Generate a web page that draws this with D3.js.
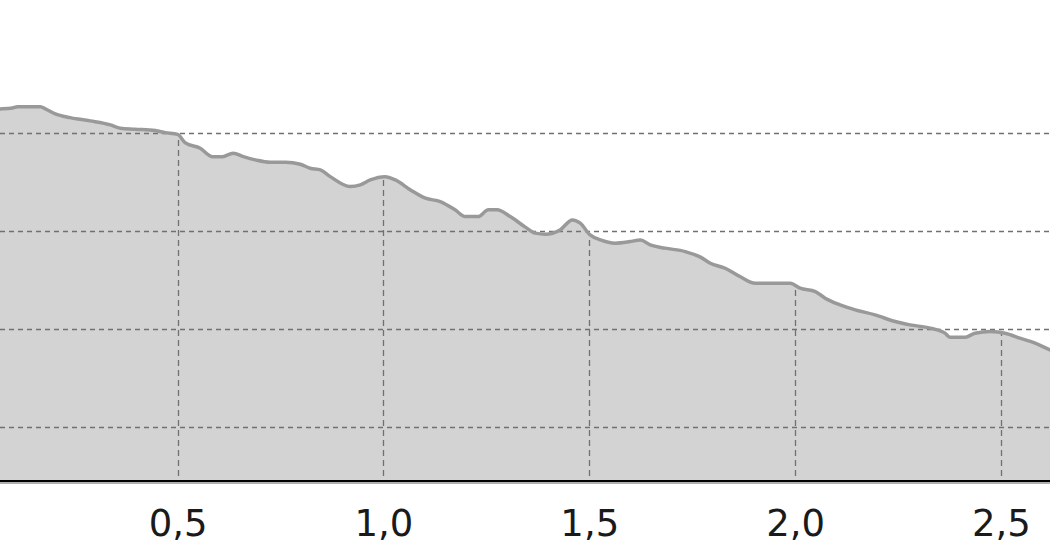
<!DOCTYPE html>
<html>
<head>
<meta charset="utf-8">
<script src="https://cdn.jsdelivr.net/npm/d3@7/dist/d3.min.js"></script>
<style>
  html, body { margin: 0; padding: 0; background: #ffffff; }
  svg { display: block; }
</style>
</head>
<body>
<svg id="chart" width="1050" height="560"></svg>
<script>
// ---- data ----
const xValues = [0.000, 0.070, 0.099, 0.111, 0.167, 0.179, 0.203, 0.239, 0.288, 0.337, 0.361, 0.397, 0.446, 0.470, 0.500,
  0.519, 0.555, 0.584, 0.609, 0.635, 0.660, 0.689, 0.725, 0.762, 0.798, 0.822, 0.847, 0.871, 0.919, 0.944, 0.968,
  1.004, 1.029, 1.065, 1.102, 1.138, 1.174, 1.199, 1.230, 1.255, 1.276, 1.308, 1.344, 1.369, 1.393, 1.429, 1.459,
  1.478, 1.502, 1.527, 1.563, 1.599, 1.624, 1.648, 1.684, 1.733, 1.769, 1.794, 1.830, 1.866, 1.903, 1.988, 2.012,
  2.049, 2.073, 2.109, 2.146, 2.194, 2.243, 2.279, 2.328, 2.364, 2.376, 2.413, 2.437, 2.474, 2.510, 2.546, 2.583,
  2.619, 2.650];
const yValues = [42.40, 42.48, 42.58, 42.71, 42.71, 42.48, 41.97, 41.59, 41.26, 40.85, 40.51, 40.41, 40.27, 40.06, 39.88,
  39.01, 38.47, 37.61, 37.61, 37.96, 37.61, 37.28, 37.04, 37.04, 36.84, 36.43, 36.26, 35.57, 34.55, 34.72, 35.23,
  35.57, 35.23, 34.23, 33.37, 33.02, 32.18, 31.49, 31.49, 32.18, 32.18, 31.49, 30.44, 29.80, 29.69, 30.13, 31.15,
  30.82, 29.62, 29.11, 28.78, 28.94, 29.11, 28.60, 28.27, 27.92, 27.38, 26.73, 26.22, 25.37, 24.69, 24.69, 24.18,
  23.84, 23.16, 22.48, 21.97, 21.46, 20.78, 20.44, 20.10, 19.59, 19.18, 19.18, 19.59, 19.76, 19.59, 19.08, 18.57,
  17.89, 17.38];
const xTicks = [0.5, 1.0, 1.5, 2.0, 2.5];
const yTicks = [10, 20, 30, 40];

const data = xValues.map((x, i) => ({ x: x, y: yValues[i] }));

// ---- scales ----
const W = 1050, H = 560;
const x = d3.scaleLinear().domain([0, 2.62]).range([-28.3, 1050.4]);
const y = d3.scaleLinear().domain([4.5, 53.6]).range([481, 0]);

const de = d3.formatLocale({ decimal: ",", thousands: ".", grouping: [3], currency: ["", " €"] });
const fmt = de.format(".1f");

const svg = d3.select("#chart");

const area = d3.area()
  .x(d => x(d.x))
  .y0(y(4.5) + 1)
  .y1(d => y(d.y))
  .curve(d3.curveMonotoneX);

const line = d3.line()
  .x(d => x(d.x))
  .y(d => y(d.y))
  .curve(d3.curveMonotoneX);

// clip for vertical grid lines (only drawn inside the filled area)
svg.append("defs").append("clipPath").attr("id", "areaClip")
  .append("path").attr("d", area(data));

// filled area
svg.append("path")
  .attr("d", area(data))
  .attr("fill", "#d3d3d3")
  .attr("stroke", "none");

// vertical grid lines
svg.append("g")
  .attr("clip-path", "url(#areaClip)")
  .selectAll("line")
  .data(xTicks)
  .join("line")
  .attr("x1", d => Math.round(x(d)) + 0.5)
  .attr("x2", d => Math.round(x(d)) + 0.5)
  .attr("y1", 0)
  .attr("y2", y(4.5))
  .attr("stroke", "#707070")
  .attr("stroke-width", 1.3)
  .attr("stroke-dasharray", "6,4");

// horizontal grid lines
svg.append("g")
  .selectAll("line")
  .data(yTicks)
  .join("line")
  .attr("x1", 0)
  .attr("x2", W)
  .attr("y1", d => Math.round(y(d)) + 0.5)
  .attr("y2", d => Math.round(y(d)) + 0.5)
  .attr("stroke", "#707070")
  .attr("stroke-width", 1.3)
  .attr("stroke-dasharray", "5,4");

// data line
svg.append("path")
  .attr("d", line(data))
  .attr("fill", "none")
  .attr("stroke", "#999999")
  .attr("stroke-width", 3.5)
  .attr("stroke-linejoin", "round");

// bottom axis
svg.append("line")
  .attr("x1", 0).attr("x2", W)
  .attr("y1", 483).attr("y2", 483)
  .attr("stroke", "#b0b0b0").attr("stroke-width", 2);

const xAxis = d3.axisBottom(x)
  .tickValues(xTicks)
  .tickFormat(fmt)
  .tickSize(0)
  .tickPadding(0);

const gx = svg.append("g")
  .attr("transform", `translate(0,${y(4.5)})`)
  .call(xAxis);
gx.select(".domain")
  .attr("stroke", "#000")
  .attr("stroke-width", 2)
  .attr("d", `M0,0H${W}`);
gx.selectAll(".tick text")
  .attr("y", 55)
  .attr("dy", 0)
  .attr("fill", "#1a1a1a")
  .style("font-family", "'DejaVu Sans', sans-serif")
  .style("font-size", "37px");
</script>
</body>
</html>
